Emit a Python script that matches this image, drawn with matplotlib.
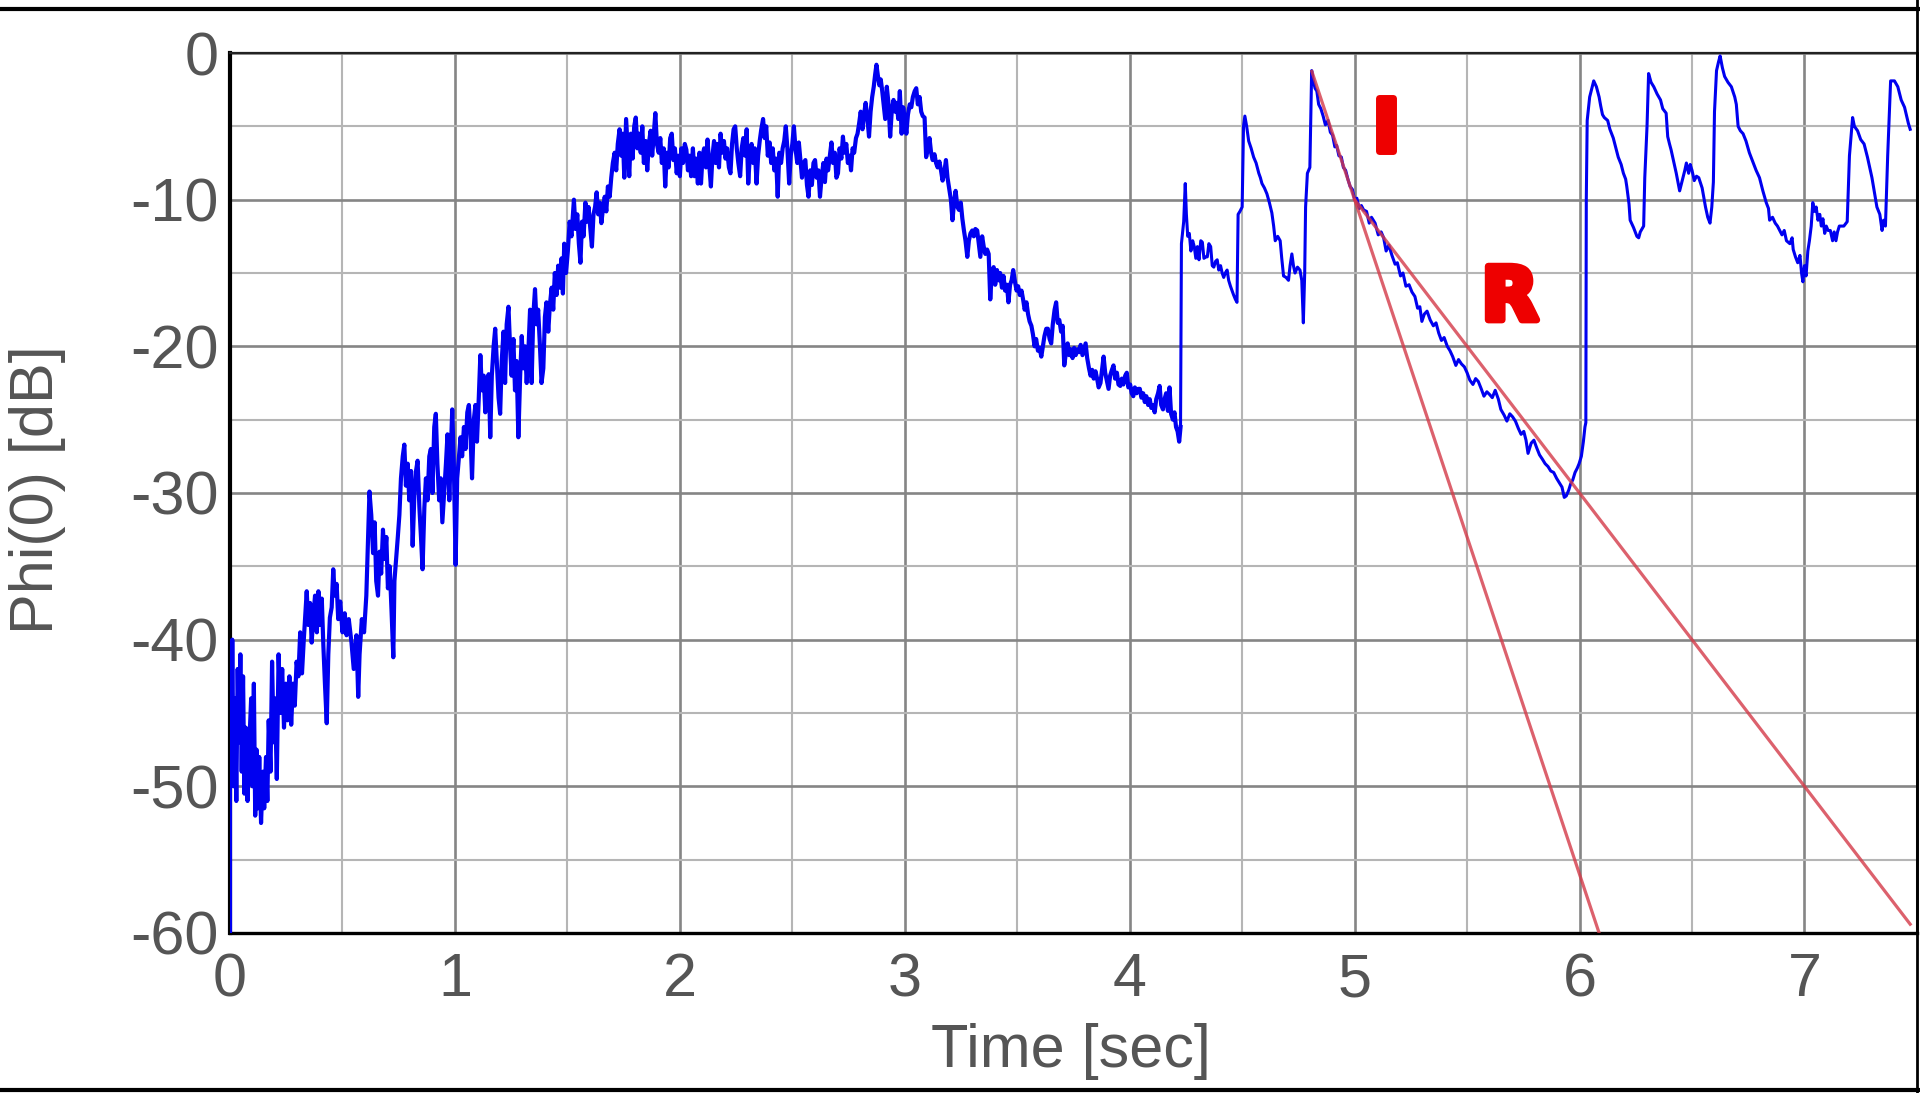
import numpy as np
from matplotlib import pyplot as plt
from matplotlib import font_manager
from matplotlib.lines import Line2D
import matplotlib.patheffects as pe


rise = [(0.000, -60), (0.000, -41), (0.006, -49), (0.010, -40), (0.016, -50), (0.022, -44),
        (0.028, -51), (0.034, -42), (0.040, -47), (0.046, -41), (0.052, -49), (0.058, -42.5),
        (0.064, -50.5), (0.070, -46), (0.078, -51), (0.086, -47), (0.094, -44), (0.100, -50),
        (0.106, -43), (0.112, -52), (0.118, -47.5), (0.124, -51.5), (0.130, -48), (0.138, -52.5),
        (0.146, -49), (0.152, -51.5), (0.160, -48), (0.166, -51), (0.172, -45.5), (0.180, -49),
        (0.187, -41.5), (0.194, -47), (0.200, -44), (0.208, -49.5), (0.216, -41), (0.224, -45),
        (0.232, -42), (0.240, -46), (0.248, -43), (0.256, -45.5), (0.264, -42.5), (0.272, -45.8),
        (0.280, -43), (0.288, -44.5), (0.296, -41.5), (0.304, -42.5), (0.312, -39.5), (0.320, -42.3),
        (0.328, -40), (0.336, -38), (0.341, -36.7), (0.348, -39), (0.356, -37.5), (0.363, -40.2),
        (0.370, -38.5), (0.378, -37), (0.386, -39.5), (0.393, -36.7), (0.400, -39), (0.408, -37.2),
        (0.415, -40.4), (0.422, -43), (0.430, -45.7), (0.437, -41), (0.444, -38.5), (0.452, -37.8),
        (0.459, -35.2), (0.466, -37), (0.474, -36.2), (0.481, -38.6), (0.490, -37.4), (0.500, -39.5),
        (0.510, -38.2), (0.518, -39.7), (0.528, -38.6), (0.540, -40.2), (0.550, -42), (0.562, -39.7),
        (0.570, -43.9), (0.576, -41), (0.586, -38.6), (0.596, -39.5), (0.606, -37), (0.614, -33),
        (0.620, -29.9), (0.628, -31.5), (0.636, -34.1), (0.643, -32), (0.650, -36), (0.658, -37),
        (0.665, -34), (0.672, -35.5), (0.680, -32.5), (0.688, -34.5), (0.695, -33), (0.702, -36.5),
        (0.710, -35), (0.718, -38), (0.726, -41.2), (0.731, -36), (0.738, -34.6), (0.746, -33),
        (0.753, -31.5), (0.760, -29), (0.768, -27.5), (0.775, -26.7), (0.782, -29.5), (0.790, -28),
        (0.797, -30.5), (0.805, -28.5), (0.812, -33.6), (0.820, -30), (0.827, -28.5), (0.834, -27.8),
        (0.842, -31), (0.849, -33), (0.856, -35.2), (0.864, -31), (0.871, -29), (0.878, -30.5),
        (0.886, -27.5), (0.893, -27), (0.900, -30), (0.908, -25.5), (0.915, -24.6), (0.922, -28),
        (0.930, -30.5), (0.937, -29), (0.944, -32), (0.952, -30), (0.960, -28), (0.967, -26),
        (0.975, -30.5), (0.982, -27), (0.988, -24.3), (0.995, -28), (1.003, -34.9), (1.010, -29),
        (1.018, -27.5), (1.025, -26.2), (1.032, -27.5), (1.040, -25.5), (1.047, -27), (1.055, -24.5),
        (1.062, -24.0), (1.069, -26), (1.076, -29), (1.084, -25), (1.091, -24), (1.098, -26.5),
        (1.106, -23.5), (1.113, -20.6), (1.120, -23), (1.128, -22), (1.135, -24.5), (1.142, -22.5),
        (1.150, -21.9), (1.157, -26.2), (1.164, -22), (1.172, -20), (1.179, -18.8), (1.186, -21),
        (1.194, -23.5), (1.201, -24.6), (1.208, -21), (1.216, -19), (1.223, -22.5), (1.230, -18.5),
        (1.238, -17.3), (1.245, -20), (1.252, -22), (1.260, -19.5), (1.267, -23), (1.274, -21),
        (1.282, -26.2), (1.290, -22), (1.297, -19.3), (1.304, -21.5), (1.312, -20), (1.319, -22.5),
        (1.326, -20.5), (1.334, -17.5), (1.341, -22.5), (1.348, -18), (1.356, -16.1), (1.363, -18.5),
        (1.370, -17.5), (1.378, -20), (1.385, -22.5), (1.393, -21.5), (1.400, -18), (1.407, -17),
        (1.415, -19), (1.422, -17.2), (1.430, -16), (1.437, -17.5), (1.444, -15), (1.452, -16.5),
        (1.459, -14.5), (1.466, -16), (1.474, -14)]

plateau = [(1.480, -16.4), (1.486, -13), (1.494, -15), (1.502, -13.5), (1.510, -11.5), (1.518, -12.5),
           (1.529, -10), (1.536, -12), (1.544, -11), (1.551, -13), (1.558, -14.3), (1.565, -11.5),
           (1.572, -12.5), (1.580, -10.2), (1.587, -11.5), (1.594, -10.5), (1.602, -12), (1.609, -13.2),
           (1.616, -11), (1.623, -10.5), (1.630, -9.5), (1.637, -11), (1.644, -10.2), (1.651, -11.6),
           (1.659, -10.5), (1.666, -9.8), (1.673, -10.8), (1.680, -9.1), (1.688, -9.8), (1.695, -8.5),
           (1.702, -7.5), (1.710, -6.8), (1.717, -8), (1.724, -6.2), (1.732, -5.2), (1.739, -7),
           (1.746, -5.5), (1.753, -8.5), (1.761, -4.5), (1.768, -6.5), (1.775, -8.4), (1.782, -5.5),
           (1.790, -7.2), (1.797, -5), (1.804, -4.4), (1.811, -6.5), (1.818, -5.5), (1.826, -6.8),
           (1.833, -5), (1.840, -7.5), (1.848, -6), (1.855, -8), (1.862, -6.2), (1.870, -5.3),
           (1.877, -7), (1.884, -5.5), (1.891, -4.1), (1.898, -6.2), (1.906, -6.8), (1.913, -5.8),
           (1.920, -7.5), (1.928, -6.5), (1.935, -9.1), (1.942, -6.8), (1.950, -7.8), (1.957, -5.8),
           (1.964, -5.5), (1.971, -7.3), (1.978, -6.5), (1.986, -8.2), (1.993, -7), (2.000, -8.4),
           (2.007, -6.5), (2.014, -7.5), (2.022, -6.2), (2.029, -6.6), (2.036, -8), (2.043, -7),
           (2.050, -8.4), (2.058, -6.5), (2.065, -8.4), (2.072, -7.2), (2.080, -8.9), (2.087, -6.8),
           (2.094, -8.9), (2.101, -7), (2.108, -6.5), (2.116, -7.8), (2.123, -5.9), (2.130, -7.5),
           (2.138, -9.1), (2.145, -7), (2.152, -6), (2.159, -7.5), (2.166, -6.2), (2.174, -7.8),
           (2.181, -5.5), (2.188, -6.8), (2.196, -6), (2.203, -7.2), (2.210, -6.5), (2.218, -7.8),
           (2.225, -8.2), (2.232, -6.2), (2.239, -5.2), (2.246, -5), (2.253, -6.5), (2.260, -7.5),
           (2.268, -8.4), (2.275, -6.5), (2.282, -5.8), (2.290, -7), (2.297, -5.2), (2.304, -8.9),
           (2.311, -7), (2.319, -6.2), (2.326, -7.5), (2.333, -6.5), (2.341, -8.9), (2.348, -7),
           (2.355, -6), (2.362, -5.2), (2.370, -4.5), (2.377, -5.8), (2.384, -5), (2.391, -7),
           (2.399, -6.1), (2.406, -7.5), (2.413, -6.5), (2.420, -8), (2.428, -7.2), (2.435, -9.8),
           (2.442, -6.8), (2.450, -7.5), (2.457, -6.5), (2.464, -6), (2.471, -5), (2.478, -6.5),
           (2.486, -8.9), (2.493, -7), (2.500, -6.2), (2.507, -5), (2.514, -6.5), (2.522, -7.5),
           (2.529, -6.1), (2.536, -7.3), (2.543, -8.5), (2.550, -7.5), (2.558, -7.3), (2.565, -9),
           (2.572, -9.8), (2.580, -8), (2.587, -9), (2.594, -7.5), (2.601, -7.3), (2.608, -8.5),
           (2.616, -8), (2.623, -9.8), (2.630, -8.5), (2.638, -7.5), (2.645, -8.8), (2.652, -7.2),
           (2.659, -8), (2.667, -7), (2.674, -6.1), (2.681, -7.5), (2.689, -6.8), (2.696, -8.5),
           (2.703, -8.2), (2.710, -6.5), (2.718, -7.2), (2.725, -5.7), (2.732, -6.8), (2.740, -6.2),
           (2.747, -7.5), (2.754, -7), (2.761, -8), (2.768, -6.5), (2.775, -6.8), (2.783, -5.8),
           (2.790, -5.5), (2.797, -4.8), (2.804, -4), (2.812, -5.2), (2.819, -4.2), (2.826, -3.4),
           (2.834, -4.5), (2.841, -5.7), (2.848, -4), (2.855, -3), (2.862, -2.3), (2.868, -1.5),
           (2.874, -0.8), (2.880, -1.5), (2.887, -2.2), (2.893, -1.8), (2.899, -2.5), (2.906, -3.5),
           (2.913, -4.5), (2.920, -2.3), (2.928, -3.5), (2.935, -5.7), (2.942, -4), (2.950, -3.2),
           (2.957, -4), (2.964, -3.4), (2.971, -4.5), (2.978, -2.6), (2.986, -5.5)]

fall = [(2.993, -3.7), (3.000, -4.5), (3.007, -5.5), (3.014, -4.2), (3.022, -3.5), (3.029, -3.7),
        (3.036, -3), (3.044, -2.6), (3.051, -2.4), (3.058, -3.5), (3.066, -3), (3.073, -4),
        (3.080, -4.3), (3.088, -4.4), (3.095, -7.1), (3.102, -6.5), (3.110, -5.8), (3.117, -6.8),
        (3.124, -7.3), (3.132, -6.9), (3.139, -7.5), (3.146, -7.8), (3.154, -7.4), (3.161, -8),
        (3.168, -8.7), (3.175, -8.2), (3.183, -7.3), (3.190, -8.5), (3.197, -9.2), (3.205, -10),
        (3.212, -11.4), (3.219, -10.2), (3.226, -9.4), (3.234, -10.5), (3.241, -10.7), (3.249, -10.2),
        (3.256, -11.3), (3.263, -12.1), (3.270, -12.8), (3.278, -13.9), (3.285, -12.8), (3.292, -12.3),
        (3.300, -12.1), (3.307, -12.5), (3.314, -12), (3.322, -12.1), (3.329, -13), (3.336, -13.9),
        (3.344, -12.5), (3.351, -13.2), (3.358, -13.7), (3.366, -13.4), (3.373, -13.7), (3.380, -16.8),
        (3.387, -15), (3.395, -14.6), (3.402, -15.8), (3.410, -14.8), (3.417, -15.5), (3.424, -15),
        (3.432, -16), (3.439, -15.2), (3.446, -16.2), (3.454, -15.8), (3.461, -17), (3.468, -15.8),
        (3.475, -15.5), (3.482, -14.8), (3.490, -15.6), (3.497, -16.2), (3.504, -15.9), (3.511, -16.5),
        (3.519, -16.2), (3.526, -16.8), (3.533, -17.5), (3.541, -17), (3.548, -17.8), (3.555, -18.3),
        (3.563, -18.6), (3.570, -19.2), (3.577, -20), (3.584, -19.5), (3.592, -20.3), (3.599, -20.1),
        (3.607, -20.7), (3.614, -20), (3.621, -19.3), (3.629, -18.8), (3.636, -18.8), (3.644, -19.5),
        (3.651, -19.8), (3.658, -18.5), (3.666, -17.5), (3.673, -17), (3.680, -18.4), (3.687, -18.2),
        (3.695, -19), (3.702, -18.6), (3.709, -21.3), (3.716, -20.5), (3.724, -19.8), (3.731, -20.6),
        (3.738, -20.2), (3.746, -20.8), (3.753, -20.1), (3.760, -20.6), (3.768, -20.2), (3.775, -20.4),
        (3.782, -19.9), (3.790, -20.6), (3.797, -20.2), (3.804, -19.8), (3.811, -20.8), (3.819, -21.5),
        (3.826, -22), (3.833, -21.6), (3.840, -22.2), (3.848, -21.7), (3.855, -22.2), (3.862, -22.8),
        (3.870, -22.5), (3.877, -21.6), (3.884, -20.7), (3.891, -21.8), (3.899, -22.4), (3.906, -22.9),
        (3.913, -22), (3.921, -21.6), (3.928, -21.3), (3.935, -22.2), (3.943, -21.8), (3.950, -22.6),
        (3.958, -22.7), (3.965, -22.2), (3.972, -22.6), (3.980, -22), (3.987, -21.8), (3.994, -22.8),
        (4.002, -22.6), (4.009, -23.2), (4.016, -23.4), (4.023, -22.8), (4.031, -23.2), (4.038, -22.9),
        (4.045, -22.9), (4.052, -23.5), (4.060, -23.2), (4.067, -23.8), (4.074, -23.4), (4.082, -24),
        (4.089, -23.6), (4.096, -24.2), (4.104, -24), (4.111, -24.5), (4.118, -23.6), (4.126, -23.2),
        (4.133, -22.7), (4.140, -24), (4.148, -24.3), (4.155, -23.6), (4.162, -23.2), (4.170, -24.4),
        (4.177, -22.8), (4.184, -24.6), (4.192, -25), (4.199, -24.5), (4.206, -25.5), (4.213, -25.8),
        (4.220, -26.5), (4.226, -25.5)]

bursts = [(4.230, -13.0), (4.240, -11.5), (4.247, -8.9), (4.252, -11), (4.258, -12.5), (4.265, -12.3),
          (4.272, -13.5), (4.280, -12.8), (4.287, -13.2), (4.294, -14), (4.301, -13.2), (4.308, -14.1),
          (4.316, -12.8), (4.323, -12.9), (4.330, -14), (4.338, -13.9), (4.345, -13.9), (4.352, -13),
          (4.360, -13.2), (4.367, -14.5), (4.374, -14.6), (4.382, -14.2), (4.389, -14.1), (4.396, -14.8),
          (4.404, -14.5), (4.411, -15), (4.418, -15.3), (4.425, -15), (4.433, -14.8), (4.440, -15.5),
          (4.448, -15.9), (4.455, -16.2), (4.462, -16.5), (4.470, -16.8), (4.477, -17), (4.482, -11),
          (4.490, -10.8), (4.500, -10.5), (4.506, -5), (4.512, -4.3), (4.520, -5), (4.529, -6),
          (4.540, -6.5), (4.551, -7.1), (4.562, -7.5), (4.574, -8.2), (4.581, -8.5), (4.588, -8.9),
          (4.599, -9.2), (4.610, -9.6), (4.621, -10.2), (4.632, -10.9), (4.640, -11.8), (4.647, -12.8),
          (4.658, -12.5), (4.669, -12.8), (4.676, -14), (4.684, -15.2), (4.695, -15.3), (4.706, -15.5),
          (4.713, -14.5), (4.721, -13.7), (4.728, -14.5), (4.735, -15), (4.746, -14.6), (4.757, -14.8),
          (4.765, -15.5), (4.772, -18.4), (4.778, -15), (4.782, -10.5), (4.790, -8.2), (4.801, -7.8),
          (4.809, -1.2)]

decay = [(4.815, -1.8), (4.824, -2.4), (4.832, -2.6), (4.840, -3.5), (4.850, -3.8), (4.860, -4.3),
         (4.870, -4.9), (4.882, -4.6), (4.892, -5.4), (4.902, -5.6), (4.912, -6.4), (4.920, -6.3),
         (4.930, -7), (4.941, -7.1), (4.950, -7.8), (4.960, -8), (4.970, -8.6), (4.980, -9.1),
         (4.990, -9.3), (5.000, -10), (5.010, -9.9), (5.020, -10.6), (5.030, -10.4), (5.040, -10.7),
         (5.053, -10.8), (5.065, -11.6), (5.075, -11.2), (5.091, -11.6), (5.105, -12.4), (5.118, -12.2),
         (5.129, -12.6), (5.140, -13.5), (5.152, -13.1), (5.166, -13.8), (5.180, -14.4), (5.190, -14.3),
         (5.204, -15.2), (5.215, -15), (5.228, -15.9), (5.242, -15.8), (5.255, -16.3), (5.268, -16.6),
         (5.280, -17.4), (5.290, -17.3), (5.299, -18.3), (5.310, -17.8), (5.322, -17.6), (5.336, -18.2),
         (5.350, -18.6), (5.362, -18.4), (5.374, -19.1), (5.386, -19.6), (5.398, -19.4), (5.412, -20),
         (5.424, -20.3), (5.436, -20.7), (5.450, -21.3), (5.462, -20.9), (5.475, -21.2), (5.488, -21.4),
         (5.500, -21.8), (5.512, -22.3), (5.526, -22.6), (5.538, -22.2), (5.550, -22.4), (5.563, -22.9),
         (5.575, -23.4), (5.588, -23.1), (5.601, -23.3), (5.612, -23.5), (5.625, -23), (5.639, -23.6),
         (5.650, -24.3), (5.665, -24.7), (5.677, -25.1), (5.690, -24.6), (5.702, -24.8), (5.715, -25.1),
         (5.728, -25.6), (5.740, -26), (5.752, -25.8), (5.762, -26.4), (5.771, -27.3), (5.785, -26.6),
         (5.797, -26.4), (5.809, -26.9), (5.822, -27.4), (5.835, -27.7), (5.847, -28), (5.860, -28.2),
         (5.872, -28.5), (5.885, -28.6), (5.898, -29), (5.910, -29.3), (5.922, -29.6), (5.932, -30.3),
         (5.941, -30.2), (5.952, -29.8), (5.960, -29.4), (5.970, -29.1), (5.980, -28.6), (5.990, -28.3),
         (5.998, -28), (6.008, -27.5), (6.017, -26.5), (6.024, -25.5), (6.028, -25.2), (6.030, -10),
         (6.034, -4.6), (6.045, -3)]

tail = [(6.063, -1.9), (6.075, -2.3), (6.087, -3), (6.094, -3.6), (6.102, -4.2), (6.110, -4.4),
        (6.125, -4.6), (6.135, -5.2), (6.150, -5.8), (6.160, -6.4), (6.172, -7.1), (6.185, -7.6),
        (6.195, -8.2), (6.205, -8.6), (6.210, -9.1), (6.220, -10.3), (6.225, -11.4), (6.240, -11.9),
        (6.255, -12.5), (6.263, -12.6), (6.270, -12.2), (6.285, -11.8), (6.290, -8.5), (6.300, -5),
        (6.307, -1.4), (6.318, -2), (6.330, -2.3), (6.345, -2.8), (6.360, -3.2), (6.370, -3.8),
        (6.385, -4.1), (6.392, -5.7), (6.400, -6.2), (6.407, -6.6), (6.420, -7.5), (6.430, -8.2),
        (6.445, -9.4), (6.455, -8.8), (6.460, -8.5), (6.468, -8), (6.475, -7.5), (6.485, -8.2),
        (6.492, -7.6), (6.500, -8), (6.510, -8.7), (6.520, -8.4), (6.530, -8.5), (6.545, -9.2),
        (6.560, -10.5), (6.570, -11.2), (6.580, -11.6), (6.588, -10.5), (6.595, -8.8), (6.600, -4),
        (6.609, -1.2), (6.618, -0.6), (6.625, -0.2), (6.635, -1), (6.645, -1.6), (6.660, -2),
        (6.675, -2.3), (6.690, -3), (6.697, -3.5), (6.705, -5), (6.715, -5.3), (6.727, -5.5),
        (6.740, -6), (6.755, -6.8), (6.770, -7.4), (6.785, -8), (6.800, -8.5), (6.815, -9.4),
        (6.830, -10.2), (6.840, -10.6), (6.845, -11.4), (6.858, -11.2), (6.870, -11.6), (6.880, -11.8),
        (6.890, -12.1), (6.900, -12.4), (6.910, -12.1), (6.920, -12.8), (6.935, -13), (6.945, -12.6),
        (6.950, -13.4), (6.960, -13.9), (6.970, -14.3), (6.980, -13.8), (6.987, -15), (6.993, -15.6),
        (7.000, -14.5), (7.007, -15.2), (7.015, -13.5), (7.022, -12.8), (7.030, -11.8), (7.037, -10.2),
        (7.045, -10.8), (7.052, -10.5), (7.060, -11.4), (7.068, -11), (7.075, -11.8), (7.082, -11.3),
        (7.090, -12.3), (7.097, -11.8), (7.105, -12.1), (7.115, -12.1), (7.125, -12.8), (7.132, -12.2),
        (7.140, -12.8), (7.147, -12.2), (7.155, -11.8), (7.175, -11.8), (7.190, -11.5), (7.200, -7),
        (7.214, -4.4), (7.222, -5), (7.236, -5.3), (7.250, -5.9), (7.265, -6.2), (7.280, -7.1),
        (7.290, -7.8), (7.300, -8.5), (7.310, -9.4), (7.322, -10.5), (7.335, -11), (7.345, -12.1),
        (7.352, -11.4), (7.360, -11.8), (7.370, -7), (7.383, -1.9), (7.400, -1.9), (7.415, -2.3),
        (7.430, -3.2), (7.445, -3.7), (7.462, -4.8), (7.470, -5.2)]

# fitted decay lines: I (initial) and R (reverberation)
i_line_t = [4.81, 6.087]
i_line_db = [-1.26, -60]
r_line_t = [5.0, 7.47]
r_line_db = [-10, -59.4]

x_ticks = [0, 1, 2, 3, 4, 5, 6, 7]
y_ticks = [-60, -50, -40, -30, -20, -10, 0]


names = set(f.name for f in font_manager.fontManager.ttflist)
narrow = 'Liberation Sans Narrow' if 'Liberation Sans Narrow' in names else 'Liberation Sans'
plt.rcParams['axes.unicode_minus'] = False

noisy = rise + plateau + fall
clean = fall[-1:] + bursts + decay + tail
t_noisy, db_noisy = zip(*noisy)
t_clean, db_clean = zip(*clean)

fig = plt.figure(figsize=(19.2, 10.93), dpi=100)
ax = fig.add_axes([0.1198, 0.1464, 0.8786, 0.8051])

ax.plot(t_noisy, db_noisy, color='#0000f0', lw=3.0, zorder=3)
ax.plot(t_clean, db_clean, color='#0000f0', lw=2.2, zorder=3)
ax.plot(i_line_t, i_line_db, color='#d43a48', lw=2.3, alpha=0.8, zorder=4)
ax.plot(r_line_t, r_line_db, color='#d43a48', lw=2.3, alpha=0.8, zorder=4)

red_fx = [pe.withStroke(linewidth=5, foreground='#ee0000')]
ax.text(5.14, -5.3, 'I', color='#ee0000', fontsize=53, fontweight='bold',
        ha='center', va='center', path_effects=red_fx, zorder=5)
ax.text(5.69, -16.8, 'R', color='#ee0000', fontsize=53, fontweight='bold',
        ha='center', va='center', path_effects=red_fx, zorder=5)

ax.set_xlim(0, 7.47)
ax.set_ylim(-60, 0)
ax.set_xticks(x_ticks)
ax.set_xticks([v + 0.5 for v in x_ticks], minor=True)
ax.set_yticks(y_ticks)
ax.set_yticks([v + 5 for v in y_ticks[:-1]], minor=True)
ax.grid(which='major', color='#858585', lw=1.9)
ax.grid(which='minor', color='#b5b5b5', lw=1.5)
ax.set_axisbelow(True)
ax.tick_params(which='both', length=0)
ax.tick_params(axis='x', pad=14, labelsize=44, labelcolor='#555555')
ax.tick_params(axis='y', pad=8, labelsize=44, labelcolor='#555555')
for lab in ax.get_xticklabels() + ax.get_yticklabels():
    lab.set_family(narrow)

ax.spines['left'].set_linewidth(3)
ax.spines['bottom'].set_linewidth(2.4)
ax.spines['top'].set_linewidth(1.6)
ax.spines['top'].set_color('#222222')
ax.spines['right'].set_linewidth(2)
ax.spines['right'].set_color('#222222')

fig.text(37 / 1920, 1 - 490 / 1093, 'Phi(0) [dB]', rotation=90, ha='center', va='center',
         fontsize=44, color='#555555', family=narrow)
fig.text(1071 / 1920, 1 - 1051 / 1093, 'Time [sec]', ha='center', va='center',
         fontsize=44, color='#555555', family=narrow)

# black frame around the picture
fig.add_artist(Line2D([0, 1], [0.9918, 0.9918], transform=fig.transFigure, color='black', lw=3))
fig.add_artist(Line2D([0, 1], [0.0025, 0.0025], transform=fig.transFigure, color='black', lw=3))
fig.add_artist(Line2D([0.9986, 0.9986], [0, 1], transform=fig.transFigure, color='black', lw=2))

fig.savefig('out.png', dpi=100)
